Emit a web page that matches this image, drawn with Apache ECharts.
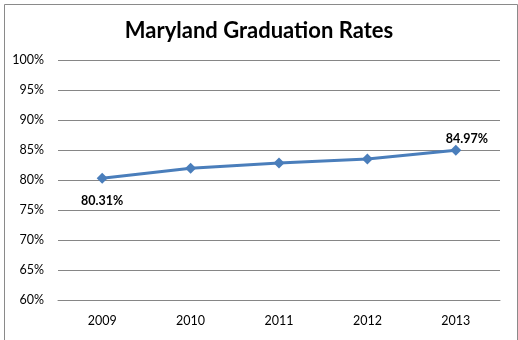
<!DOCTYPE html>
<html>
<head>
<meta charset="utf-8">
<script src="https://cdn.jsdelivr.net/npm/echarts@6/dist/echarts.min.js"></script>
<style>
html,body{margin:0;padding:0;background:#fff;}
#chart{width:518px;height:340px;}
</style>
</head>
<body>
<div id="chart"></div>
<script>
const titleText = 'Maryland Graduation Rates';
const years = ['2009', '2010', '2011', '2012', '2013'];
const rates = [80.31, 81.97, 82.82, 83.5, 84.97];
const yMin = 60, yMax = 100, yStep = 5;

const chart = echarts.init(document.getElementById('chart'), null, {renderer: 'canvas'});
const font = 'Lato, "Open Sans", sans-serif';
const lastIdx = rates.length - 1;
const seriesData = rates.map((v, i) => {
  if (i === 0) return {value: v, label: {show: true, position: 'bottom', distance: 11}};
  if (i === lastIdx) return {value: v, label: {show: true, position: 'top', distance: 4, offset: [11, 5]}};
  return {value: v};
});
chart.setOption({
  animation: false,
  backgroundColor: '#fff',
  title: {
    text: titleText, left: 'center', top: 15,
    textStyle: {fontFamily: font, fontSize: 22, fontWeight: 'bold', color: '#000'}
  },
  graphic: [{
    type: 'rect', left: 2, top: 2, z: 100,
    shape: {width: 513, height: 336},
    style: {fill: 'none', stroke: '#8a8a8a', lineWidth: 1}
  }],
  grid: {left: 58, right: 18, top: 60, bottom: 40},
  xAxis: {
    type: 'category', data: years, boundaryGap: true,
    axisLine: {lineStyle: {color: '#868686'}},
    axisTick: {show: false},
    axisLabel: {fontFamily: font, fontSize: 12.5, color: '#000', margin: 14}
  },
  yAxis: {
    type: 'value', min: yMin, max: yMax, interval: yStep,
    axisLine: {show: false}, axisTick: {show: false},
    splitLine: {lineStyle: {color: '#868686'}},
    axisLabel: {fontFamily: font, fontSize: 12.5, color: '#000', margin: 14,
      formatter: v => v + '%'}
  },
  series: [{
    type: 'line', data: seriesData,
    symbol: 'diamond', symbolSize: 11,
    lineStyle: {color: '#4A7EBB', width: 3},
    itemStyle: {color: '#4A7EBB'},
    label: {
      show: false, fontFamily: font, fontSize: 12.5, fontWeight: 'bold', color: '#000',
      formatter: p => p.value.toFixed(2) + '%'
    }
  }]
});
</script>
</body>
</html>
